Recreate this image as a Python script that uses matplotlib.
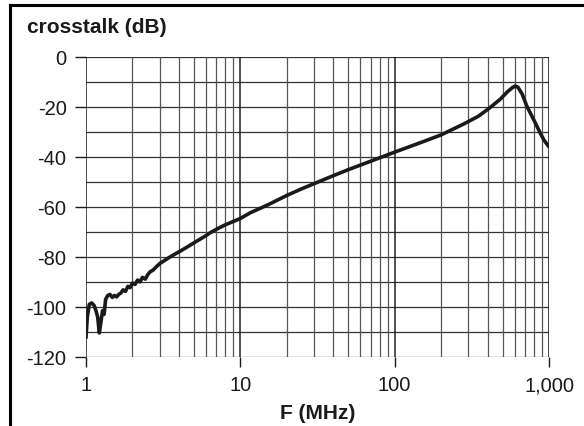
import numpy as np
import matplotlib.pyplot as plt
from matplotlib.lines import Line2D

plt.rcParams['font.family'] = ['Liberation Sans', 'DejaVu Sans']
plt.rcParams['axes.unicode_minus'] = False

# crosstalk curve
freq_mhz = [1.00, 1.02, 1.05, 1.09, 1.13, 1.16, 1.19, 1.22, 1.25, 1.28, 1.31, 1.34,
            1.38, 1.43, 1.48, 1.53, 1.58, 1.63, 1.68, 1.74, 1.80, 1.87, 1.93, 2.00,
            2.08, 2.16, 2.24, 2.32, 2.42, 2.52, 2.60, 2.72, 2.85, 3.02, 3.20, 3.45,
            3.87, 4.06, 4.6, 5.2, 6.0, 6.37, 7.0, 8.0, 10.0, 11.6, 15.0, 20.0, 24.4,
            30.0, 40.0, 50.0, 70.0, 104.0, 150.0, 200.0, 279.0, 350.0, 415.0, 482.0,
            540.0, 580.0, 603.0, 630.0, 670.0, 718.0, 800.0, 875.0, 930.0, 992.0]
crosstalk_db = [-112.0, -104.0, -99.0, -98.4, -99.5, -101.5, -104.0, -110.4, -106.0, -101.5,
                -103.0, -97.0, -95.5, -95.0, -96.2, -95.4, -96.0, -95.0, -94.5, -93.2,
                -93.8, -91.8, -92.3, -90.5, -91.0, -89.3, -90.0, -88.2, -88.9, -87.0,
                -86.0, -85.3, -84.0, -82.6, -81.6, -80.3, -78.5, -77.8, -75.8, -73.8,
                -71.5, -70.4, -69.0, -67.2, -64.7, -62.4, -59.3, -55.5, -53.1,
                -50.8, -47.6, -45.2, -41.8, -37.8, -34.2, -31.3, -27.0, -23.8, -20.4,
                -17.1, -14.0, -12.4, -11.8, -12.3, -15.0, -19.8, -25.5, -30.4, -33.5,
                -35.8]

y_ticks = [0, -20, -40, -60, -80, -100, -120]
x_ticks = [1, 10, 100, 1000]
x_tick_labels = ['1', '10', '100', '1,000']

fig = plt.figure(figsize=(5.84, 4.27), dpi=100)
ax = fig.add_axes([86 / 584, 1 - 358 / 427, (549 - 86) / 584, (358 - 57.5) / 427])

# grid: every 10 dB and every 1..9 per decade
for v in range(-120, 1, 10):
    ax.axhline(v, color='#333333', lw=0.9, zorder=1)
for dec in [1, 10, 100]:
    for m in range(1, 10):
        xv = dec * m
        if m == 1:
            ax.axvline(xv, color='#222222', lw=1.1, zorder=1)
        else:
            ax.axvline(xv, color='#555555', lw=0.9, zorder=1)
ax.axvline(1000, color='#222222', lw=1.2, zorder=1)

ax.plot(freq_mhz, crosstalk_db, color='#1a1a1a', lw=2.6, zorder=3,
        solid_joinstyle='round')

ax.set_xscale('log')
ax.set_xlim(1, 1000)
ax.set_ylim(-120, 0)
ax.set_xticks(x_ticks)
ax.set_xticklabels(x_tick_labels)
ax.set_yticks(y_ticks)
ax.xaxis.set_minor_locator(plt.NullLocator())
ax.tick_params(axis='both', labelsize=14.5, colors='#1a1a1a', width=1.0)
ax.tick_params(axis='x', length=7, pad=6)
ax.tick_params(axis='y', length=8, pad=6)
for s in ax.spines.values():
    s.set_visible(False)

fig.text(27 / 584, 1 - 33 / 427, 'crosstalk (dB)', fontsize=15,
         fontweight='bold', color='#1a1a1a')
fig.text(317.5 / 584, 1 - 419 / 427, 'F (MHz)', fontsize=15,
         fontweight='bold', color='#1a1a1a', ha='center')

# frame lines at left and top of the picture
fig.add_artist(Line2D([10 / 584, 10 / 584], [0, 1 - 6 / 427], color='black',
                      lw=2.2, transform=fig.transFigure))
fig.add_artist(Line2D([10 / 584, 1], [1 - 6 / 427, 1 - 6 / 427], color='black',
                      lw=2.2, transform=fig.transFigure))

plt.savefig('out.png', dpi=100)
